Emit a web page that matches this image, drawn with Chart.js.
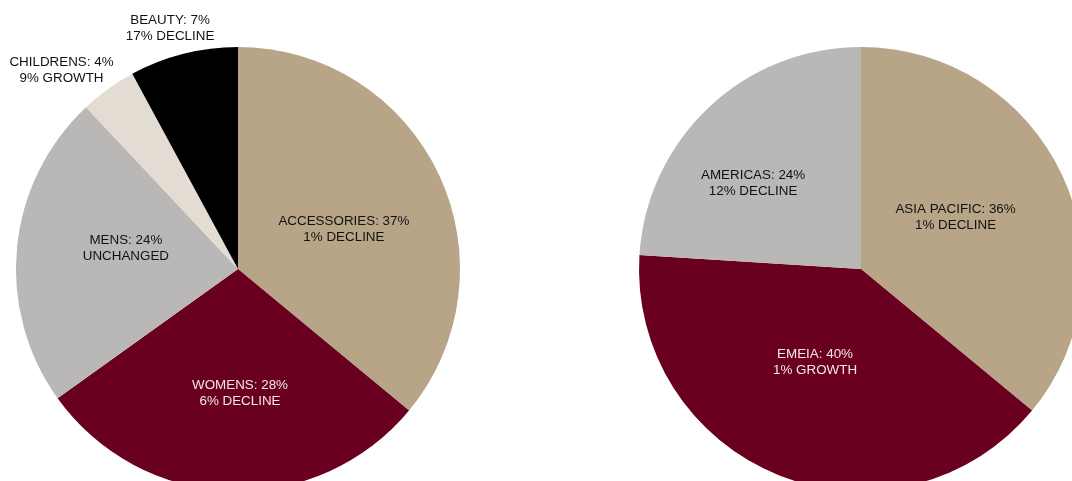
<!DOCTYPE html>
<html>
<head>
<meta charset="utf-8">
<script src="https://cdn.jsdelivr.net/npm/chart.js@4"></script>
<style>
    html, body { margin: 0; padding: 0; background: #fff; overflow: hidden; width: 1072px; height: 481px; }
    .pie-box { position: absolute; top: 0; height: 540px; }
    #productBox { left: 0; width: 536px; }
    #regionBox { left: 536px; width: 560px; }
</style>
</head>
<body>
<div class="pie-box" id="productBox"><canvas id="productChart"></canvas></div>
<div class="pie-box" id="regionBox"><canvas id="regionChart"></canvas></div>
<script>
// Sales by product division (slice sizes as drawn, label text as printed)
const productLabels = ['ACCESSORIES', 'WOMENS', 'MENS', 'CHILDRENS', 'BEAUTY'];
const productShares = [36.0, 29.1, 22.9, 4.1, 7.9];
const productShareText = ['37%', '28%', '24%', '4%', '7%'];
const productChange = ['1% DECLINE', '6% DECLINE', 'UNCHANGED', '9% GROWTH', '17% DECLINE'];

// Sales by region
const regionLabels = ['ASIA PACIFIC', 'EMEIA', 'AMERICAS'];
const regionShares = [36, 40, 24];
const regionShareText = ['36%', '40%', '24%'];
const regionChange = ['1% DECLINE', '1% GROWTH', '12% DECLINE'];

const TAN = '#b8a588';
const MAROON = '#6a0020';
const GREY = '#b9b8b7';
const CREAM = '#e3dcd2';
const BLACK = '#000000';

// label anchor relative to pie centre, in units of radius
const productLabelPos = [[0.477, -0.180], [0.009, 0.559], [-0.505, -0.095], [-0.795, -0.896], [-0.306, -1.086]];
const regionLabelPos = [[0.426, -0.234], [-0.207, 0.419], [-0.486, -0.387]];

const sliceLabels = {
    id: 'sliceLabels',
    afterDatasetsDraw(chart, args, opts) {
        const ctx = chart.ctx;
        const meta = chart.getDatasetMeta(0);
        const ds = chart.data.datasets[0];
        ctx.save();
        ctx.font = '13.4px "Liberation Sans", Arial, sans-serif';
        ctx.textAlign = 'center';
        ctx.textBaseline = 'middle';
        meta.data.forEach((arc, i) => {
            const r = arc.outerRadius;
            const x = arc.x + opts.pos[i][0] * r;
            const y = arc.y + opts.pos[i][1] * r;
            ctx.fillStyle = ds.backgroundColor[i] === MAROON ? '#f2e6ea' : '#111';
            ctx.fillText(chart.data.labels[i] + ': ' + opts.share[i], x, y - 8);
            ctx.fillText(opts.change[i], x, y + 8);
        });
        ctx.restore();
    }
};

function makePie(id, labels, values, colors, share, change, pos, padding) {
    return new Chart(document.getElementById(id), {
        type: 'pie',
        data: {
            labels: labels,
            datasets: [{
                data: values,
                backgroundColor: colors,
                borderWidth: 0
            }]
        },
        options: {
            responsive: true,
            maintainAspectRatio: false,
            animation: false,
            layout: { padding: padding },
            plugins: {
                legend: { display: false },
                tooltip: { enabled: false },
                sliceLabels: { share: share, change: change, pos: pos }
            }
        },
        plugins: [sliceLabels]
    });
}

makePie('productChart', productLabels, productShares,
    [TAN, MAROON, GREY, CREAM, BLACK], productShareText, productChange, productLabelPos,
    { left: 16, top: 47, right: 76, bottom: 49 });

makePie('regionChart', regionLabels, regionShares,
    [TAN, MAROON, GREY], regionShareText, regionChange, regionLabelPos,
    { left: 103, top: 47, right: 13, bottom: 49 });
</script>
</body>
</html>
